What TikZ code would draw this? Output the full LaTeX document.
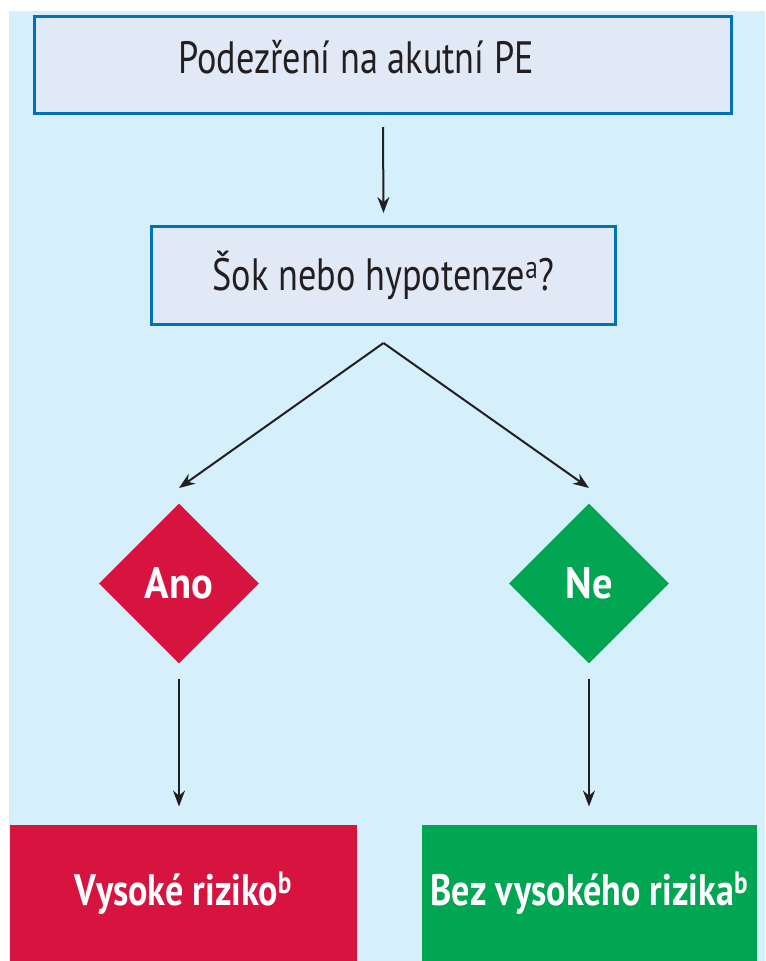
\documentclass[tikz,border=0pt]{standalone}
\usepackage{fontspec}
\setmainfont{PT Sans}[FakeStretch=0.8, BoldFeatures={FakeStretch=0.92}]
\newfontfamily\narrowsans{PT Sans}[FakeStretch=0.82]
\usetikzlibrary{shapes.geometric,arrows.meta,calc}

\definecolor{bgblue}{RGB}{213,239,251}
\definecolor{boxfill}{RGB}{225,233,246}
\definecolor{boxline}{RGB}{0,114,188}
\definecolor{riskred}{RGB}{215,20,63}
\definecolor{riskgreen}{RGB}{0,166,81}
\definecolor{inkdark}{RGB}{35,31,32}

\tikzset{every picture/.style={line width=0.75pt}}
\tikzset{
	qbox/.style={draw=boxline, fill=boxfill, line width=2.25pt, inner sep=0pt},
	qtext/.style={inner sep=0pt, text=inkdark, font=\fontsize{34}{38}\selectfont},
	answer/.style={diamond, fill=#1, inner sep=0pt, minimum width=120pt, minimum height=120pt, text=white, font=\bfseries\fontsize{33}{36}\selectfont},
	riskbox/.style={fill=#1, inner sep=0pt, text=white, font=\narrowsans\bfseries\fontsize{33}{36}\selectfont},
	flow/.style={draw=inkdark, line width=1.5pt, -{Stealth[length=12pt,width=9pt]}}
}

\begin{document}
\begin{tikzpicture}[x=0.75pt,y=0.75pt,yscale=-1,xscale=1]
	\useasboundingbox (0,0) rectangle (765,961);
	%Shape: Rectangle [background]
	\fill [bgblue] (9,11) rectangle (765,961);
	
	%Shape: Rectangle
	\node [qbox, minimum width=522.75pt, minimum height=72.75pt] (suspect) at (383,65) {};
	% Text Node
	\node [qtext] (suspecttext) at (356,57) {Podezření na akutní PE};
	% Text Node
	\node [qbox, qtext, minimum width=348pt, minimum height=73.5pt] (shock) at (383.5,275.5) {Šok nebo hypotenze\textsuperscript{a}?};
	% Text Node
	\node [answer=riskred] (ano) at (179,583.5) {Ano};
	% Text Node
	\node [answer=riskgreen] (ne) at (589,583.5) {Ne};
	% Text Node
	\node [riskbox=riskred, minimum width=260.25pt, minimum height=102pt] (high) at (183.5,893) {Vysoké riziko\textsuperscript{b}};
	% Text Node
	\node [riskbox=riskgreen, minimum width=251.25pt, minimum height=102pt] (nothigh) at (589.5,893) {Bez vysokého rizika\textsuperscript{b}};
	
	\coordinate (fork) at ($(shock.south)+(0,17)$);
	%Straight Lines
	\draw [flow] ($(suspect.south)+(0,12)$) -- ($(shock.north)+(0,-12)$);
	\draw [flow] (fork) -- ($(ano.north)+(0,-15)$);
	\draw [flow] (fork) -- ($(ne.north)+(0,-15)$);
	\draw [flow] ($(ano.south)+(0,15)$) -- ($(ano.south |- high.north)+(0,-18)$);
	\draw [flow] ($(ne.south)+(0,15)$) -- ($(ne.south |- nothigh.north)+(0,-18)$);
\end{tikzpicture}
\end{document}
